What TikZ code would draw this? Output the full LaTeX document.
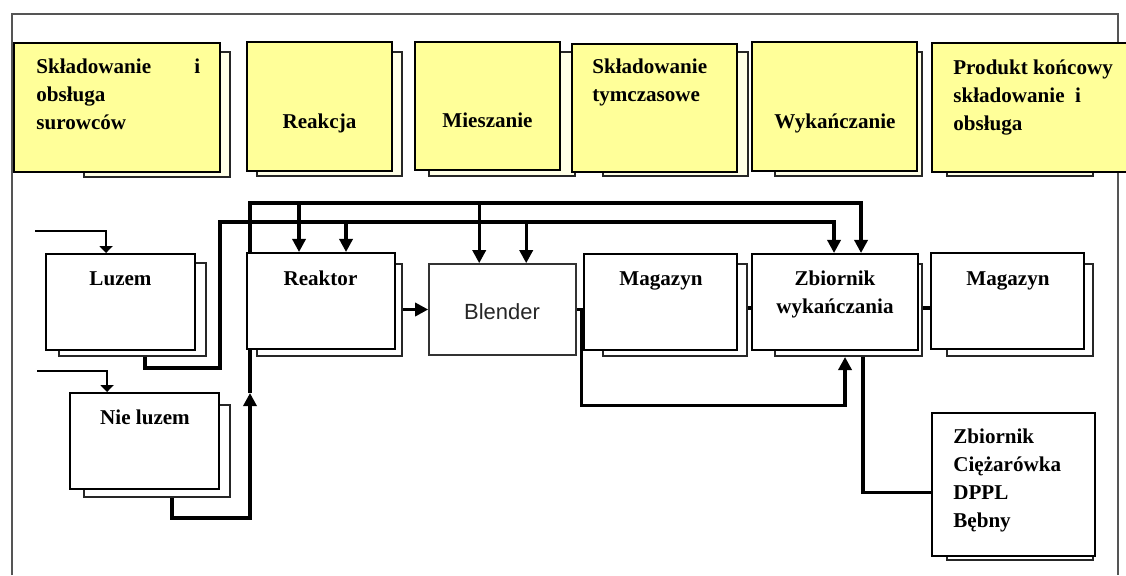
\documentclass[tikz,border=0pt]{standalone}
\usepackage{fontspec}
\setmainfont{Liberation Serif}
\newfontfamily\arialfont{Liberation Sans}
\usetikzlibrary{arrows.meta,calc,backgrounds}

\definecolor{stageyellow}{RGB}{255,255,153}
\definecolor{sheetcream}{RGB}{255,255,230}
\definecolor{framegray}{RGB}{85,85,85}

\tikzset{
  dims/.style args={#1x#2}{minimum width=#1*0.02cm, minimum height=#2*0.02cm},
  stage/.style={draw, line width=1.1pt, fill=stageyellow, inner sep=0pt},
  unit/.style={draw, line width=1.1pt, fill=white, inner sep=0pt},
  sheet/.style={draw=black!85, line width=0.85pt, fill=#1},
  sheet/.default=white,
  txt/.style={font=\fontsize{12}{16}\selectfont\bfseries, inner sep=0pt},
  pipe/.style={line width=1.85pt},
  feed/.style={line width=0.8pt, -{Triangle[length=4pt,width=7.5pt]}}
}

\begin{document}
\begin{tikzpicture}[x=0.02cm, y=-0.02cm, >={Triangle[length=7.5pt,width=7.5pt]}]
\path[use as bounding box, clip] (0,0) rectangle (1126,575);

% stages, top row
\draw[sheet=sheetcream] (84,52) rectangle (230,177);
\draw[sheet=sheetcream] (257,52) rectangle (402,176);
\draw[sheet=sheetcream] (429,52) rectangle (575,176);
\draw[sheet=sheetcream] (603,52) rectangle (748,176);
\draw[sheet=sheetcream] (775,52) rectangle (922,176);
\draw[sheet=sheetcream] (947,52) rectangle (1093,176);

\node[stage, dims=206x129] (raw) at (117,107.5) {};
\node[stage, dims=145x129] (reakcja) at (319.5,106.5) {};
\node[stage, dims=145x128] (mieszanie) at (487.5,106) {};
\node[stage, dims=165x128] (tymczas) at (654.5,108) {};
\node[stage, dims=165x129] (wykan) at (834.5,106.5) {};
\node[stage, dims=208x129] (produkt) at (1036,107.5) {};

\node[txt, anchor=north west, text width=3.28cm, align=left] (raw-t) at (36,53.7)
  {\strut Składowanie\hfill i\\obsługa\\surowców};
\node[txt, anchor=base] (reakcja-t) at (319.5,128) {Reakcja};
\node[txt, anchor=base] (mieszanie-t) at (487.5,127) {Mieszanie};
\node[txt, anchor=north west, align=left] (tymczas-t) at (592,53.7)
  {\strut Składowanie\\tymczasowe};
\node[txt, anchor=base] (wykan-t) at (835,128) {Wykańczanie};
\node[txt, anchor=north west, align=left] (produkt-t) at (953,54)
  {\strut Produkt końcowy\\składowanie\ \ i\\obsługa};

% units, process line
\draw[sheet] (59,263) rectangle (206,356);
\draw[sheet] (257,264) rectangle (402,356);
\draw[sheet] (603,264) rectangle (747,356);
\draw[sheet] (775,264) rectangle (922,356);
\draw[sheet] (947,264) rectangle (1093,356);
\draw[sheet] (84,405) rectangle (230,497);
\draw[sheet] (947,425) rectangle (1093,560);

\node[unit, dims=149x96] (luzem) at (120.5,302) {};
\node[unit, dims=148x96] (reaktor) at (321,301) {};
\node[unit, draw=black!80, line width=0.9pt, dims=147x91] (blender) at (502.5,309.5) {};
\node[unit, dims=153x96] (magazyn1) at (660.5,302) {};
\node[unit, dims=166x96] (zbiornik) at (835,302) {};
\node[unit, dims=153x96] (magazyn2) at (1007.5,301) {};
\node[unit, dims=149x96] (nieluzem) at (144.5,441) {};
\node[unit, dims=163x143] (wysylka) at (1013.5,484.5) {};

\node[txt, anchor=base] (luzem-t) at (120.5,285) {Luzem};
\node[txt, anchor=base] (reaktor-t) at (320.5,285) {Reaktor};
\node[font=\arialfont\fontsize{12.5}{15}\selectfont, text=black!85, anchor=base,
  inner sep=0pt] (blender-t) at (502,319) {Blender};
\node[txt, anchor=base] (magazyn1-t) at (661,285) {Magazyn};
\node[txt, anchor=north, align=center] (zbiornik-t) at (835,265.2)
  {\strut Zbiornik\\wykańczania};
\node[txt, anchor=base] (magazyn2-t) at (1008,285) {Magazyn};
\node[txt, anchor=base] (nieluzem-t) at (145,424) {Nie luzem};
\node[txt, anchor=north west, align=left] (wysylka-t) at (953,423.2)
  {\strut Zbiornik\\Ciężarówka\\DPPL\\Bębny};

% pipes go underneath the boxes
\begin{scope}[on background layer]
  \fill[white] (0,0) rectangle (1126,575);
  \draw[framegray, line width=0.9pt] (12,575) -- (12,14) -- (1118,14) -- (1118,575);

  \coordinate (luzem-in) at (35,231);
  \coordinate (nieluzem-in) at (37,371);
  \coordinate (bus-a) at (220,222);
  \coordinate (bus-b) at (250,203);
  \coordinate (riser) at (250,393);
  \coordinate (reaktor-a) at ($(reaktor.north west)+(100,0)$);
  \coordinate (reaktor-b) at ($(reaktor.north west)+(53,0)$);
  \coordinate (blender-a) at ($(blender.north west)+(98,0)$);
  \coordinate (blender-b) at ($(blender.north west)+(51,0)$);
  \coordinate (zbiornik-a) at ($(zbiornik.north west)+(83,0)$);
  \coordinate (zbiornik-b) at ($(zbiornik.north west)+(110,0)$);
  \coordinate (zbiornik-c) at ($(zbiornik.south west)+(94,6)$);

  \draw[feed] (luzem-in) -| ($(luzem.north west)+(61,0)$);
  \draw[feed] (nieluzem-in) -| ($(nieluzem.north west)+(38,0)$);

  % bulk line
  \draw[pipe, ->] ($(luzem.south)+(24.5,0)$) -- ++(0,17) -| (bus-a) -| (zbiornik-a);
  \foreach \c in {reaktor-a, blender-a}
    \draw[pipe, ->] (bus-a -| \c) -- (\c);

  % non-bulk line
  \draw[pipe, ->] ($(nieluzem.south)+(27.5,0)$) -- ++(0,28) -| (riser);
  \draw[pipe, ->] (riser) -- (bus-b) -| (zbiornik-b);
  \foreach \c in {reaktor-b, blender-b}
    \draw[pipe, ->] (bus-b -| \c) -- (\c);

  \draw[pipe, ->] (reaktor.east |- blender.west) -- (blender.west);
  \draw[pipe] (blender.east) -- (magazyn1.west |- blender.east);
  \draw[pipe, ->] ($(blender.east)+(5,0)$) -- ++(0,96) -| (zbiornik-c);
  \draw[pipe] ($(magazyn1.east)+(0,6)$) -- ($(zbiornik.west)+(0,6)$);
  \draw[pipe] ($(zbiornik.east)+(0,6)$) -- ($(magazyn2.west)+(0,7)$);
  \draw[pipe] ($(zbiornik.south west)+(112,0)$) |- ($(wysylka.west)+(0,8)$);
\end{scope}
\end{tikzpicture}
\end{document}
